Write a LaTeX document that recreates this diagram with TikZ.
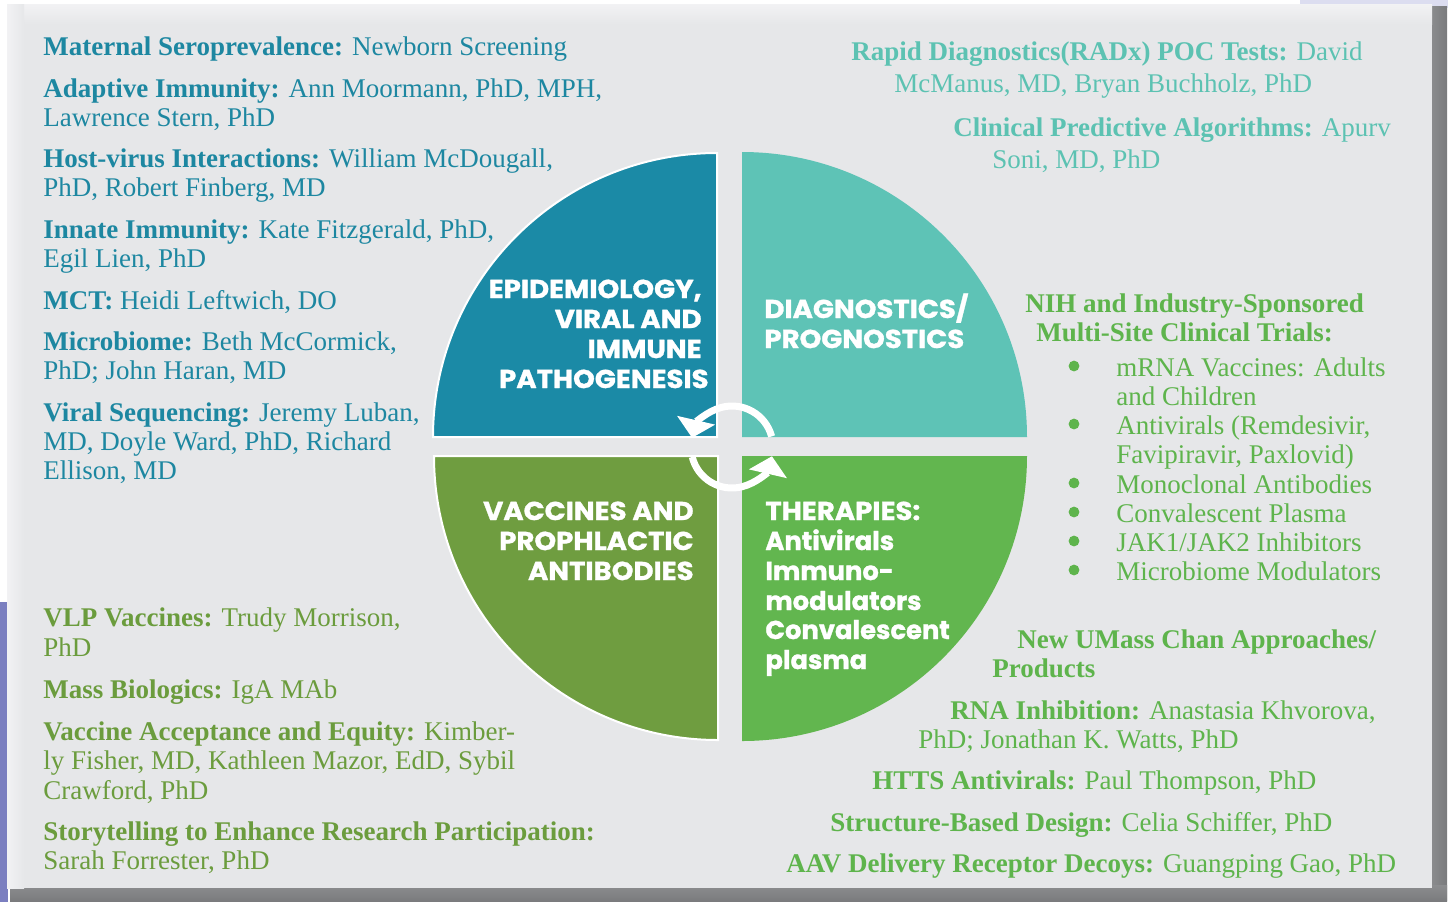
\documentclass[tikz,border=0pt]{standalone}
\usepackage{fontspec}
\setmainfont{Liberation Serif}
\newfontfamily\headfont{Poppins}[FakeStretch=1.07, FakeBold=1.2]
\newfontfamily\headfontn{Poppins}[FakeBold=1.2]
\usetikzlibrary{arrows.meta}
\definecolor{panel}{HTML}{E6E7E9}
\definecolor{panelhi}{HTML}{F2F2F4}
\definecolor{lav}{HTML}{DCDDF0}
\definecolor{purp}{HTML}{7B7FC0}
\definecolor{blueQ}{HTML}{1B8AA6}
\definecolor{blueT}{HTML}{1D87A1}
\definecolor{tealQ}{HTML}{5EC3B6}
\definecolor{tealT}{HTML}{5CC2B2}
\definecolor{oliveQ}{HTML}{6F9D40}
\definecolor{oliveT}{HTML}{6B9C3D}
\definecolor{greenQ}{HTML}{62B64F}
\definecolor{greenT}{HTML}{5EB44C}
\definecolor{shA}{HTML}{8C8D8F}
\definecolor{shB}{HTML}{3E3F41}
\definecolor{shC}{HTML}{7A7B7D}
\tikzset{
  ln/.style={anchor=base west, inner sep=0pt, font=\fontsize{13.5pt}{15pt}\selectfont},
  bl/.style={ln, text=blueT},
  tl/.style={ln, text=tealT},
  ol/.style={ln, text=oliveT},
  gl/.style={ln, text=greenT},
  qh/.style={inner sep=0pt, text=white, font=\headfont\bfseries\fontsize{12.9pt}{15pt}\selectfont},
  qhr/.style={qh, anchor=base east},
  qhl/.style={qh, anchor=base west},
  qhn/.style={qhl, font=\headfontn\bfseries\fontsize{12.9pt}{15pt}\selectfont},
  cyc/.style={white, line width=3.5pt, -{Triangle[width=19pt,length=9pt]}},
  bul/.style={circle, fill=greenT, inner sep=0pt, minimum size=5.4pt}
}
\begin{document}
\begin{tikzpicture}[x=0.5pt,y=0.5pt]
\useasboundingbox (0,0) rectangle (1448,-902);
\fill[white] (0,0) rectangle (1448,-902);
\fill[lav] (1300,0) rectangle (1448,-8);
\fill[purp] (0,-602) rectangle (8,-902);
% shadow / bevel
\shade[left color=shA, middle color=shB, right color=shC] (1430,-6) rectangle (1447,-900);
\shade[top color=shA, middle color=shB, bottom color=shC] (10,-885) rectangle (1447,-901);
\fill[panel] (7,-4) rectangle (1432,-888);
\shade[top color=panelhi, bottom color=panel] (7,-4) rectangle (1432,-24);
\shade[left color=panelhi, right color=panel] (7,-4) rectangle (24,-888);

% quadrants
\filldraw[fill=blueQ, draw=white, line width=1pt] (717,-437) -- (433,-437) arc[start angle=180, end angle=90, radius=142pt] -- cycle;
\fill[tealQ] (742,-437) -- (742,-152) arc[start angle=90, end angle=0, radius=142.5pt] -- cycle;
\filldraw[fill=oliveQ, draw=white, line width=1pt] (718,-456) -- (434,-456) arc[start angle=180, end angle=270, radius=142pt] -- cycle;
\fill[greenQ] (742,-456) -- (1027,-456) arc[start angle=0, end angle=-90, radius=142.5pt] -- cycle;

% cycle arrows
\coordinate (c) at (732,-447);
\draw[cyc] ([shift={(15:20.5pt)}]c) arc[start angle=15, end angle=167, radius=20.5pt];
\draw[cyc] ([shift={(194:20.5pt)}]c) arc[start angle=194, end angle=347, radius=20.5pt];

% quadrant headings
\node[qhr] (q1a) at (702,-298) {EPIDEMIOLOGY,};
\node[qhr] (q1b) at (702,-328) {VIRAL AND};
\node[qhr] (q1c) at (702,-358) {IMMUNE};
\node[qhr] (q1d) at (709,-388) {PATHOGENESIS};
\node[qhl] (q2a) at (764,-318) {DIAGNOSTICS/};
\node[qhl] (q2b) at (764,-348) {PROGNOSTICS};
\node[qhr] (q3a) at (694,-520) {VACCINES AND};
\node[qhr] (q3b) at (694,-550) {PROPHLACTIC};
\node[qhr] (q3c) at (694,-580) {ANTIBODIES};
\node[qhl] (q4a) at (765,-520) {THERAPIES:};
\node[qhn] (q4b) at (765,-550) {Antivirals};
\node[qhn] (q4c) at (765,-580) {Immuno-};
\node[qhn] (q4d) at (765,-610) {modulators};
\node[qhn] (q4e) at (765,-639) {Convalescent};
\node[qhn] (q4f) at (765,-669) {plasma};

% left column (blue)
\node[bl] (b1) at (43,-55) {\textbf{Maternal Seroprevalence:} Newborn Screening};
\node[bl] (b2) at (43,-97) {\textbf{Adaptive Immunity:} Ann Moormann, PhD, MPH,};
\node[bl] (b3) at (43,-126) {Lawrence Stern, PhD};
\node[bl] (b4) at (43,-167) {\textbf{Host-virus Interactions:} William McDougall,};
\node[bl] (b5) at (43,-196) {PhD, Robert Finberg, MD};
\node[bl] (b6) at (43,-238) {\textbf{Innate Immunity:} Kate Fitzgerald, PhD,};
\node[bl] (b7) at (43,-267) {Egil Lien, PhD};
\node[bl] (b8) at (43,-309) {\textbf{MCT:} Heidi Leftwich, DO};
\node[bl] (b9) at (43,-350) {\textbf{Microbiome:} Beth McCormick,};
\node[bl] (b10) at (43,-379) {PhD; John Haran, MD};
\node[bl] (b11) at (43,-421) {\textbf{Viral Sequencing:} Jeremy Luban,};
\node[bl] (b12) at (43,-450) {MD, Doyle Ward, PhD, Richard};
\node[bl] (b13) at (43,-479) {Ellison, MD};

% bottom-left (olive)
\node[ol] (o1) at (43,-626) {\textbf{VLP Vaccines:} Trudy Morrison,};
\node[ol] (o2) at (43,-656) {PhD};
\node[ol] (o3) at (43,-698) {\textbf{Mass Biologics:} IgA MAb};
\node[ol] (o4) at (43,-740) {\textbf{Vaccine Acceptance and Equity:} Kimber-};
\node[ol] (o5) at (43,-769) {ly Fisher, MD, Kathleen Mazor, EdD, Sybil};
\node[ol] (o6) at (43,-799) {Crawford, PhD};
\node[ol] (o7) at (43,-840) {\textbf{Storytelling to Enhance Research Participation:}};
\node[ol] (o8) at (43,-869) {Sarah Forrester, PhD};

% top-right (teal)
\node[tl] (t1) at (851,-60) {\textbf{Rapid Diagnostics(RADx) POC Tests:} David};
\node[tl] (t2) at (894,-92) {McManus, MD, Bryan Buchholz, PhD};
\node[tl] (t3) at (953,-136) {\textbf{Clinical Predictive Algorithms:} Apurv};
\node[tl] (t4) at (992,-168) {Soni, MD, PhD};

% right middle (green)
\node[gl] (g1) at (1025,-312) {\textbf{NIH and Industry-Sponsored}};
\node[gl] (g2) at (1036,-341) {\textbf{Multi-Site Clinical Trials:}};
\node[bul] (d1) at (1074,-366) {};
\node[gl] (g3) at (1116,-376) {mRNA Vaccines: Adults};
\node[gl] (g4) at (1116,-405) {and Children};
\node[bul] (d2) at (1074,-424) {};
\node[gl] (g5) at (1116,-434) {Antivirals (Remdesivir,};
\node[gl] (g6) at (1116,-463) {Favipiravir, Paxlovid)};
\node[bul] (d3) at (1074,-483) {};
\node[gl] (g7) at (1116,-493) {Monoclonal Antibodies};
\node[bul] (d4) at (1074,-512) {};
\node[gl] (g8) at (1116,-522) {Convalescent Plasma};
\node[bul] (d5) at (1074,-541) {};
\node[gl] (g9) at (1116,-551) {JAK1/JAK2 Inhibitors};
\node[bul] (d6) at (1074,-570) {};
\node[gl] (g10) at (1116,-580) {Microbiome Modulators};

% bottom-right (green)
\node[gl] (h1) at (1017,-648) {\textbf{New UMass Chan Approaches/}};
\node[gl] (h2) at (992,-677) {\textbf{Products}};
\node[gl] (h3) at (950,-719) {\textbf{RNA Inhibition:} Anastasia Khvorova,};
\node[gl] (h4) at (918,-748) {PhD; Jonathan K. Watts, PhD};
\node[gl] (h5) at (872,-789) {\textbf{HTTS Antivirals:} Paul Thompson, PhD};
\node[gl] (h6) at (830,-831) {\textbf{Structure-Based Design:} Celia Schiffer, PhD};
\node[gl] (h7) at (786,-872) {\textbf{AAV Delivery Receptor Decoys:} Guangping Gao, PhD};
\end{tikzpicture}
\end{document}
